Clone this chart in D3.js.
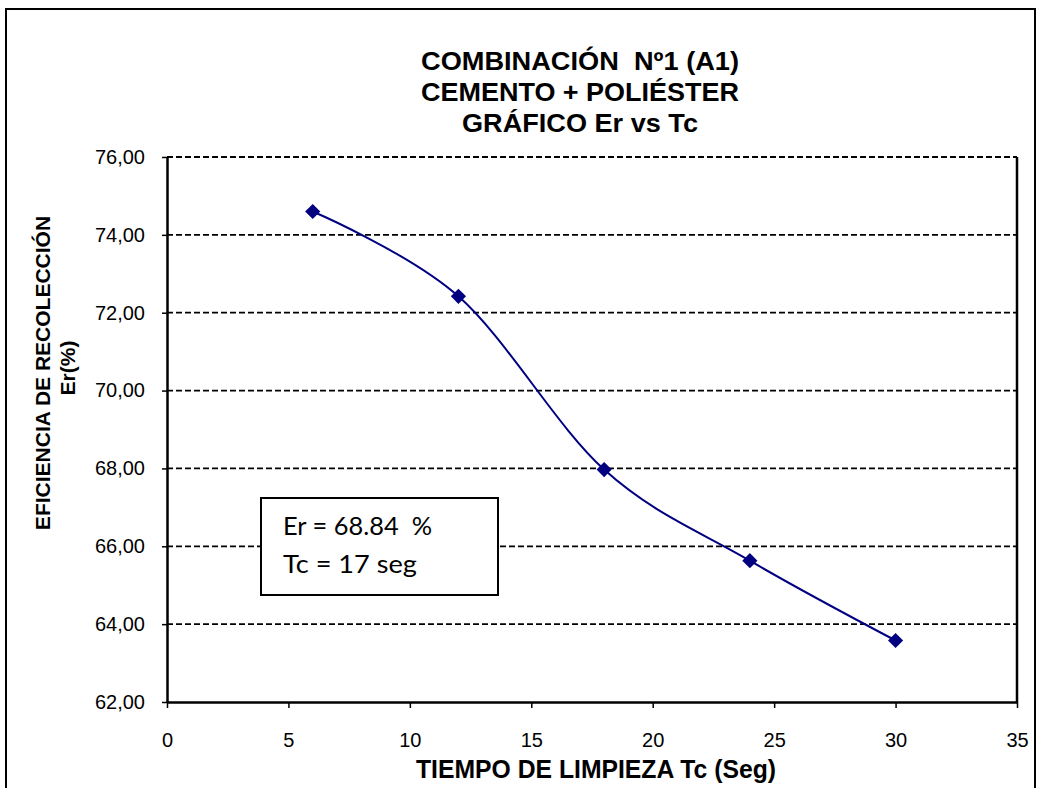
<!DOCTYPE html>
<html>
<head>
<meta charset="utf-8">
<script src="https://cdn.jsdelivr.net/npm/d3@7"></script>
<style>
  body { margin: 0; background: #fff; }
  svg { display: block; font-family: 'Liberation Sans', Arial, sans-serif; }
  .axis path, .axis line { stroke: #000; }
  .axis text { fill: #000; font-size: 20px; font-family: 'Liberation Sans', Arial, sans-serif; }
</style>
</head>
<body>
<svg id="chart"></svg>
<script>
const tiempo = [6, 12, 18, 24, 30];
const eficiencia = [74.60, 72.42, 67.97, 65.63, 63.58];
const yTicks = [62, 64, 66, 68, 70, 72, 74, 76];
const xTicks = [0, 5, 10, 15, 20, 25, 30, 35];
const titleLines = ['COMBINACIÓN  Nº1 (A1)', 'CEMENTO + POLIÉSTER', 'GRÁFICO Er vs Tc'];
const yLabelLines = ['EFICIENCIA DE RECOLECCIÓN', 'Er(%)'];
const xLabel = 'TIEMPO DE LIMPIEZA Tc (Seg)';
const noteLines = ['Er = 68.84  %', 'Tc = 17 seg'];

const W = 1041, H = 788;
const margin = { top: 157, right: 24, bottom: 86, left: 167 };
const width = W - margin.left - margin.right;
const height = H - margin.top - margin.bottom;

const svg = d3.select('#chart').attr('width', W).attr('height', H);

// outer chart frame
svg.append('rect')
  .attr('x', 6).attr('y', 9)
  .attr('width', 1029).attr('height', 800)
  .attr('fill', 'none').attr('stroke', '#000').attr('stroke-width', 2);

// title
const titleLen = [318, 318, 236];
svg.append('text')
  .attr('text-anchor', 'middle')
  .attr('font-size', 25).attr('font-weight', 'bold')
  .attr('xml:space', 'preserve')
  .selectAll('tspan').data(titleLines).join('tspan')
  .attr('x', 580).attr('y', (d, i) => 70 + i * 31)
  .attr('textLength', (d, i) => titleLen[i])
  .attr('lengthAdjust', 'spacingAndGlyphs')
  .text(d => d);

const x = d3.scaleLinear().domain([0, 35]).range([0, width]);
const y = d3.scaleLinear().domain([62, 76]).range([height, 0]);

const g = svg.append('g').attr('transform', `translate(${margin.left},${margin.top})`);

// dashed gridlines
g.append('g').selectAll('line').data(yTicks.filter(d => d > 62)).join('line')
  .attr('x1', 0).attr('x2', width)
  .attr('y1', d => y(d)).attr('y2', d => y(d))
  .attr('stroke', '#000').attr('stroke-width', 1.8)
  .attr('stroke-dasharray', '6,3');

// right border of plot area
g.append('line')
  .attr('x1', width).attr('x2', width)
  .attr('y1', 0).attr('y2', height)
  .attr('stroke', '#000').attr('stroke-width', 2.5);

const axisY = d3.axisLeft(y)
  .tickValues(yTicks)
  .tickFormat(d => d3.format('.2f')(d).replace('.', ','))
  .tickSize(5).tickSizeOuter(0).tickPadding(17);
const gy = g.append('g').attr('class', 'axis').call(axisY);
gy.select('.domain').attr('stroke-width', 2.5);
gy.selectAll('.tick line').attr('stroke-width', 1.5);

const axisX = d3.axisBottom(x)
  .tickValues(xTicks)
  .tickSize(6).tickSizeOuter(0).tickPadding(25);
const gx = g.append('g').attr('class', 'axis')
  .attr('transform', `translate(0,${height})`).call(axisX);
gx.select('.domain').attr('stroke-width', 2.5);
gx.selectAll('.tick line').attr('stroke-width', 1.5);

// axis titles
svg.append('text')
  .attr('x', 596).attr('y', 778)
  .attr('text-anchor', 'middle')
  .attr('font-size', 25).attr('font-weight', 'bold')
  .attr('textLength', 360).attr('lengthAdjust', 'spacingAndGlyphs')
  .text(xLabel);

const yLabelY = [373, 368];
const yLabelX = [50, 75];
svg.append('g').selectAll('text').data(yLabelLines).join('text')
  .attr('transform', (d, i) => `translate(${yLabelX[i]},${yLabelY[i]}) rotate(-90)`)
  .attr('text-anchor', 'middle')
  .attr('font-size', 21).attr('font-weight', 'bold')
  .text(d => d);

// series
const pts = tiempo.map((t, i) => [t, eficiencia[i]]);
const line = d3.line()
  .x(d => x(d[0])).y(d => y(d[1]))
  .curve(d3.curveCardinal.tension(0));

g.append('path').datum(pts)
  .attr('d', line)
  .attr('fill', 'none').attr('stroke', '#000080').attr('stroke-width', 2);

g.selectAll('.pt').data(pts).join('path')
  .attr('class', 'pt')
  .attr('d', d3.symbol(d3.symbolSquare, 115))
  .attr('transform', d => `translate(${x(d[0])},${y(d[1])}) rotate(45)`)
  .attr('fill', '#000080');

// annotation box
const noteLen = [149, 134];
const note = svg.append('g');
note.append('rect')
  .attr('x', 261).attr('y', 498).attr('width', 237).attr('height', 97)
  .attr('fill', '#fff').attr('stroke', '#000').attr('stroke-width', 2);
note.append('text')
  .attr('font-family', 'Lato, sans-serif').attr('font-size', 25)
  .attr('xml:space', 'preserve')
  .selectAll('tspan').data(noteLines).join('tspan')
  .attr('x', 283).attr('y', (d, i) => 535 + i * 38)
  .attr('textLength', (d, i) => noteLen[i]).attr('lengthAdjust', 'spacingAndGlyphs')
  .text(d => d);
</script>
</body>
</html>
